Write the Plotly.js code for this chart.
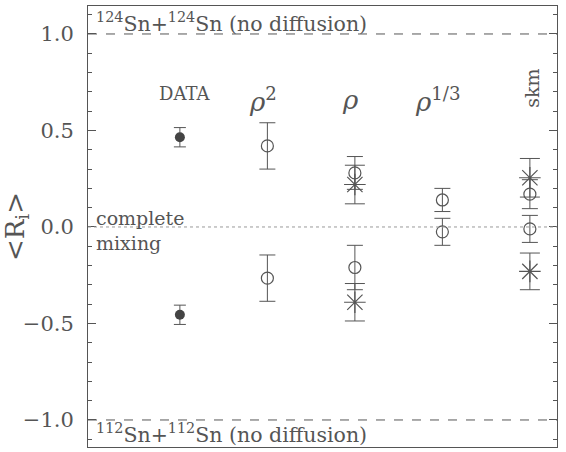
<!DOCTYPE html>
<html><head><meta charset="utf-8">
<script src="https://cdn.plot.ly/plotly-3.0.1.min.js"></script>
<style>body{margin:0;padding:0;background:#fff}</style>
</head><body>
<div id="chart" style="width:566px;height:452px"></div>
<script>
// categories (x positions 1..5)
const categories = ["DATA", "ρ²", "ρ", "ρ¹ᐟ³", "skm"];
const catX = [1, 2, 3, 4, 5];

// measured data (filled circles)
const dataX = [1, 1];
const dataY = [0.465, -0.455];
const dataErr = [0.05, 0.05];

// open circle model results
const circX = [2, 2, 3, 3, 4, 4, 5, 5];
const circY = [0.42, -0.265, 0.28, -0.21, 0.14, -0.025, 0.17, -0.01];
const circErr = [0.12, 0.12, 0.085, 0.115, 0.06, 0.07, 0.075, 0.07];

// asterisk model results
const starX = [3, 3, 5, 5];
const starY = [0.22, -0.39, 0.255, -0.23];
const starErr = [0.1, 0.097, 0.1, 0.095];

const tickVals = [-1.0, -0.5, 0.0, 0.5, 1.0];
const tickText = ["−1.0", "−0.5", "0.0", "0.5", "1.0"];

const FONT = "'DejaVu Serif', 'Liberation Serif', serif";
const INK = "#555555";

const traces = [
  {x: dataX, y: dataY, type: "scatter", mode: "markers",
   marker: {symbol: "circle", size: 10, color: "#444444", line: {width: 0}},
   error_y: {type: "data", array: dataErr, visible: true, color: INK, thickness: 1, width: 6},
   showlegend: false, hoverinfo: "skip"},
  {x: circX, y: circY, type: "scatter", mode: "markers",
   marker: {symbol: "circle-open", size: 12, color: INK, line: {width: 1.2, color: INK}},
   error_y: {type: "data", array: circErr, visible: true, color: INK, thickness: 1, width: 8},
   showlegend: false, hoverinfo: "skip"},
  {x: starX, y: starY, type: "scatter", mode: "markers",
   marker: {symbol: "asterisk-open", size: 18, color: INK, line: {width: 1.2, color: INK}},
   error_y: {type: "data", array: starErr, visible: true, color: INK, thickness: 1, width: 10},
   showlegend: false, hoverinfo: "skip"}
];

const labelY = [0.69, 0.66, 0.66, 0.66, 0.72];
const labelText = ["DATA", "<i>ρ</i><sup>2</sup>", "<i>ρ</i>", "<i>ρ</i><sup>1/3</sup>", "skm"];
const labelSize = [18, 26, 26, 26, 19];
const annotations = catX.map((x, i) => ({
  x: i === 0 ? x + 0.05 : (i === 4 ? x + 0.02 : x - 0.05), y: labelY[i], xref: "x", yref: "y", text: labelText[i],
  showarrow: false, textangle: i === 4 ? -90 : 0,
  font: {family: FONT, size: labelSize[i], color: INK}
}));
annotations.push(
  {x: 0, y: 1.0, xref: "paper", yref: "y", xanchor: "left", yanchor: "bottom", yshift: -4, xshift: 6,
   text: "<sup>124</sup>Sn+<sup>124</sup>Sn (no diffusion)", showarrow: false,
   font: {family: FONT, size: 20.5, color: INK}},
  {x: 0, y: -1.0, xref: "paper", yref: "y", xanchor: "left", yanchor: "top", yshift: 2, xshift: 6,
   text: "<sup>112</sup>Sn+<sup>112</sup>Sn (no diffusion)", showarrow: false,
   font: {family: FONT, size: 20.5, color: INK}},
  {x: 0, y: 0.0, xref: "paper", yref: "y", xanchor: "left", yanchor: "middle", xshift: 6, yshift: -4,
   text: "complete<br>mixing", align: "left", showarrow: false,
   font: {family: FONT, size: 19, color: INK}}
);

const layout = {
  width: 566, height: 452,
  margin: {l: 88, r: 9, t: 6, b: 5},
  paper_bgcolor: "#ffffff", plot_bgcolor: "#ffffff",
  font: {family: FONT, color: INK},
  xaxis: {range: [-0.05, 5.31], showticklabels: false, ticks: "", showgrid: false, zeroline: false,
          showline: true, mirror: true, linecolor: INK, linewidth: 1},
  yaxis: {range: [-1.14, 1.145], tickvals: tickVals, ticktext: tickText, ticks: "inside", ticklen: 8,
          tickcolor: INK, showgrid: false, zeroline: false, showline: true, mirror: "ticks",
          linecolor: INK, linewidth: 1, tickfont: {family: FONT, size: 21, color: INK},
          ticklabelstandoff: 9,
          minor: {dtick: 0.1, ticks: "inside", ticklen: 4, tickcolor: INK},
          title: {text: "&lt;R<sub>i</sub>&gt;", font: {family: FONT, size: 26, color: INK}, standoff: 0}},
  shapes: [
    {type: "line", xref: "paper", x0: 0, x1: 1, yref: "y", y0: 1, y1: 1, line: {color: INK, width: 1, dash: "dash"}},
    {type: "line", xref: "paper", x0: 0, x1: 1, yref: "y", y0: -1, y1: -1, line: {color: INK, width: 1, dash: "dash"}},
    {type: "line", xref: "paper", x0: 0, x1: 1, yref: "y", y0: 0, y1: 0, line: {color: "#999999", width: 1, dash: "dot"}}
  ],
  annotations: annotations
};

Plotly.newPlot("chart", traces, layout, {displayModeBar: false, staticPlot: true});
</script>
</body></html>
